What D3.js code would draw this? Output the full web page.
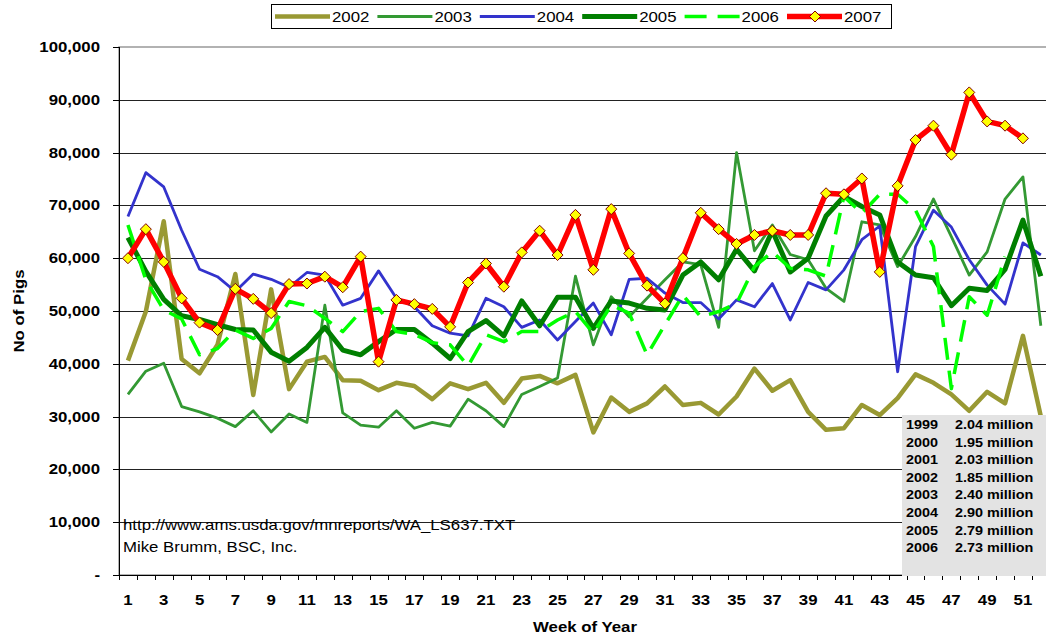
<!DOCTYPE html>
<html>
<head>
<meta charset="utf-8">
<script src="https://cdn.jsdelivr.net/npm/d3@7"></script>
<style>
  body { margin: 0; background: #fff; }
  text { font-family: "Liberation Sans", Arial, sans-serif; fill: #000; }
</style>
</head>
<body>
<div id="chart"></div>
<script>
// weekly pig numbers
const weeks = d3.range(1, 53);
const yTicks = [0, 10000, 20000, 30000, 40000, 50000, 60000, 70000, 80000, 90000, 100000];

const pigs2002 = [40600, 49900, 67000, 40900, 38200, 43600, 57000, 34100, 54100, 35200, 40400, 41300, 36900, 36800, 35000, 36400, 35800, 33300, 36300, 35200, 36400, 32600, 37200, 37700, 36300, 37900, 27000, 33600, 30900, 32500, 35700, 32200, 32600, 30400, 33800, 39100, 34900, 36900, 30900, 27500, 27800, 32200, 30300, 33500, 38000, 36400, 34200, 31100, 34700, 32500, 45300, 30000];
const pigs2003 = [34200, 38600, 40100, 31900, 30900, 29700, 28100, 31100, 27100, 30500, 28900, 51100, 30700, 28400, 28000, 31100, 27800, 28900, 28200, 33300, 31100, 28100, 34200, 35700, 37300, 56600, 43600, 52700, 48900, 52400, 55900, 59300, 58800, 46900, 80000, 61400, 66300, 60700, 59700, 54300, 51800, 66900, 66300, 58400, 64100, 71200, 64100, 56800, 61200, 71200, 75400, 47200];
const pigs2004 = [67900, 76200, 73500, 65300, 57900, 56500, 53700, 57000, 56000, 54500, 57300, 56800, 51100, 52400, 57600, 52400, 50800, 47200, 45800, 45300, 52400, 50800, 46900, 48300, 44500, 48000, 51500, 45500, 56000, 56200, 53400, 51600, 51600, 48500, 52100, 50800, 55200, 48300, 55400, 54000, 57800, 63500, 66100, 38500, 62200, 69100, 65900, 59700, 54900, 51300, 62900, 60600];
const pigs2005 = [63900, 57500, 52200, 49100, 48400, 47400, 46500, 46400, 42200, 40500, 43100, 46900, 42600, 41700, 44200, 46500, 46500, 43900, 41000, 46100, 48200, 45300, 51900, 47200, 52600, 52600, 46700, 51900, 51500, 50500, 50200, 56800, 59300, 55900, 61700, 57600, 65200, 57400, 60000, 68000, 71700, 69800, 68200, 59300, 56800, 56300, 51000, 54300, 53900, 57900, 67200, 56600];
const pigs2006 = [66300, 55900, 50200, 48500, 41700, 42900, 46400, 44800, 46700, 51800, 51000, 48600, 46100, 49900, 50500, 46100, 45600, 44000, 43600, 39600, 45500, 44200, 46100, 46100, 48300, 49900, 45800, 51100, 49600, 41700, 47400, 53000, 48900, 49900, 51400, 58400, 61200, 58100, 57800, 56600, 71700, 68500, 72100, 72100, 69100, 62200, 35300, 52700, 49200, 60300];
const pigs2007 = [60000, 65500, 59300, 52400, 47800, 46400, 54200, 52300, 49600, 55100, 55200, 56500, 54500, 60300, 40400, 52100, 51300, 50400, 47000, 55400, 59000, 54600, 61100, 65200, 60600, 68200, 57800, 69300, 60900, 54800, 51400, 60000, 68600, 65500, 62700, 64400, 65200, 64400, 64400, 72300, 72100, 75100, 57400, 73700, 82400, 85100, 79600, 91400, 85900, 85100, 82700];

// yearly totals box
const tableYears = ["1999", "2000", "2001", "2002", "2003", "2004", "2005", "2006"];
const tableTotals = ["2.04 million", "1.95 million", "2.03 million", "1.85 million", "2.40 million", "2.90 million", "2.79 million", "2.73 million"];

const sourceLines = ["http://www.ams.usda.gov/mnreports/WA_LS637.TXT", "Mike Brumm, BSC, Inc."];

const series = [
  { name: "2002", values: pigs2002, color: "#999933", width: 4.5 },
  { name: "2003", values: pigs2003, color: "#339933", width: 2.8 },
  { name: "2004", values: pigs2004, color: "#3333cc", width: 2.8 },
  { name: "2005", values: pigs2005, color: "#007f00", width: 5 },
  { name: "2006", values: pigs2006, color: "#00ff00", width: 3.5, dash: "22,11" },
  { name: "2007", values: pigs2007, color: "#ff0000", width: 5.5, marker: true }
];

const W = 1046, H = 640;
const plotLeft = 119, plotTop = 47, plotBottom = 575;
const stretch = 1.2; // the text in the original is drawn wide

const svg = d3.select("#chart").append("svg")
    .attr("width", W)
    .attr("height", H);

svg.append("rect").attr("width", W).attr("height", H).attr("fill", "#fff");

const x = d3.scaleBand()
    .domain(weeks)
    .range([plotLeft, plotLeft + 52 * 17.9]);
const cx = w => x(w) + x.bandwidth() / 2;

const y = d3.scaleLinear()
    .domain([0, 100000])
    .range([plotBottom, plotTop]);

function wideText(parent, px, py, str, size, weight, anchor) {
  return parent.append("text")
      .attr("transform", `translate(${px},${py}) scale(${stretch},1)`)
      .attr("font-size", size)
      .attr("font-weight", weight)
      .attr("text-anchor", anchor)
      .text(str);
}

// plot frame and gridlines
svg.append("rect")
    .attr("x", plotLeft).attr("y", plotTop)
    .attr("width", x.range()[1] - plotLeft).attr("height", plotBottom - plotTop)
    .attr("fill", "none")
    .attr("stroke", "#999")
    .attr("stroke-width", 1.5);

svg.append("g")
  .selectAll("line")
  .data(yTicks.slice(1, -1))
  .join("line")
    .attr("x1", plotLeft).attr("x2", W)
    .attr("y1", d => Math.round(y(d)) + 0.5)
    .attr("y2", d => Math.round(y(d)) + 0.5)
    .attr("stroke", "#222")
    .attr("stroke-width", 1);

// y axis
svg.append("line")
    .attr("x1", plotLeft + 0.5).attr("x2", plotLeft + 0.5)
    .attr("y1", plotTop).attr("y2", plotBottom)
    .attr("stroke", "#000");
svg.append("g")
  .selectAll("line")
  .data(yTicks)
  .join("line")
    .attr("x1", plotLeft - 6).attr("x2", plotLeft)
    .attr("y1", d => Math.round(y(d)) + 0.5)
    .attr("y2", d => Math.round(y(d)) + 0.5)
    .attr("stroke", "#000");

const yLabels = svg.append("g");
yTicks.forEach(t => {
  wideText(yLabels, 100, y(t) + 5, t === 0 ? "-" : d3.format(",")(t), 14, "bold", "end");
});

// x axis
svg.append("line")
    .attr("x1", plotLeft).attr("x2", W)
    .attr("y1", plotBottom + 0.5).attr("y2", plotBottom + 0.5)
    .attr("stroke", "#000");
svg.append("g")
  .selectAll("line")
  .data(weeks.concat([53]))
  .join("line")
    .attr("x1", (d, i) => Math.round(plotLeft + i * x.step()) + 0.5)
    .attr("x2", (d, i) => Math.round(plotLeft + i * x.step()) + 0.5)
    .attr("y1", plotBottom).attr("y2", plotBottom + 5)
    .attr("stroke", "#000");

const xLabels = svg.append("g");
weeks.filter(w => w % 2 === 1).forEach(w => {
  wideText(xLabels, cx(w), 605, String(w), 14, "bold", "middle");
});

// axis titles
wideText(svg, 585, 632, "Week of Year", 14, "bold", "middle");
svg.append("text")
    .attr("transform", `translate(24,311) rotate(-90) scale(${stretch},1)`)
    .attr("font-size", 14)
    .attr("font-weight", "bold")
    .attr("text-anchor", "middle")
    .text("No of Pigs");

// source note
sourceLines.forEach((s, i) => {
  wideText(svg, 123, 530 + i * 22, s, 14, "normal", "start");
});

// series lines
const line = d3.line()
    .x((d, i) => cx(weeks[i]))
    .y(d => y(d));

const diamond = "M0,-5.5L5.5,0L0,5.5L-5.5,0Z";

series.forEach(s => {
  svg.append("path")
      .datum(s.values)
      .attr("d", line)
      .attr("fill", "none")
      .attr("stroke", s.color)
      .attr("stroke-width", s.width)
      .attr("stroke-linejoin", "round")
      .attr("stroke-dasharray", s.dash || null);
  if (s.marker) {
    svg.append("g")
      .selectAll("path")
      .data(s.values)
      .join("path")
        .attr("transform", (d, i) => `translate(${cx(weeks[i])},${y(d)})`)
        .attr("d", diamond)
        .attr("fill", "#ffff00")
        .attr("stroke", "#800000")
        .attr("stroke-width", 1);
  }
});

// totals box
svg.append("rect")
    .attr("x", 902).attr("y", 415)
    .attr("width", W - 902).attr("height", plotBottom + 1 - 415)
    .attr("fill", "#e3e3e3");
tableYears.forEach((yr, i) => {
  wideText(svg, 906, 429 + i * 17.6, yr, 12, "bold", "start");
  wideText(svg, 955, 429 + i * 17.6, tableTotals[i], 12, "bold", "start");
});

// legend
const legend = svg.append("g");
legend.append("rect")
    .attr("x", 271.5).attr("y", 4.5)
    .attr("width", 620).attr("height", 24)
    .attr("fill", "#fff")
    .attr("stroke", "#000");
series.forEach((s, i) => {
  const lx = 275 + i * 102.4;
  legend.append("line")
      .attr("x1", lx).attr("x2", lx + 55)
      .attr("y1", 16.5).attr("y2", 16.5)
      .attr("stroke", s.color)
      .attr("stroke-width", s.width)
      .attr("stroke-dasharray", s.dash || null);
  if (s.marker) {
    legend.append("path")
        .attr("transform", `translate(${lx + 28},16.5)`)
        .attr("d", diamond)
        .attr("fill", "#ffff00")
        .attr("stroke", "#800000");
  }
  wideText(legend, lx + 57, 21.5, s.name, 14, "normal", "start");
});
</script>
</body>
</html>
